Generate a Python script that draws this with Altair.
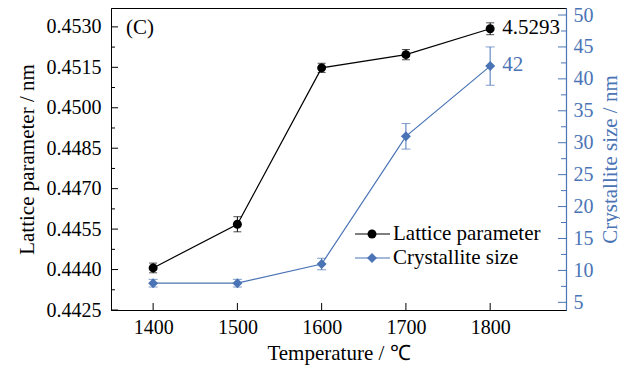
import altair as alt
import pandas as pd

# Sintering temperature (°C)
temps = [1400, 1500, 1600, 1700, 1800]

# Lattice parameter (nm) with error half-widths
lattice = [0.44406, 0.44568, 0.45148, 0.45197, 0.45293]
lattice_err = [0.00018, 0.00028, 0.00017, 0.00019, 0.00022]

# Crystallite size (nm) with error half-widths
cryst = [8, 8, 11, 31, 42]
cryst_err = [0.6, 0.6, 0.9, 2.0, 3.0]

# Axis tick values
x_ticks = [1400, 1500, 1600, 1700, 1800]
left_major = [0.4425, 0.4440, 0.4455, 0.4470, 0.4485, 0.4500, 0.4515, 0.4530]
left_minor = [0.44325, 0.44475, 0.44625, 0.44775, 0.44925, 0.45075, 0.45225]
right_major = [5, 10, 15, 20, 25, 30, 35, 40, 45, 50]
right_minor = [7.5, 12.5, 17.5, 22.5, 27.5, 32.5, 37.5, 42.5, 47.5]

W, H = 455, 302
BLUE = "#4a74b5"
FONT = "Liberation Serif"

df = pd.DataFrame({
    "temp": temps,
    "lat": lattice,
    "lat_lo": [v - e for v, e in zip(lattice, lattice_err)],
    "lat_hi": [v + e for v, e in zip(lattice, lattice_err)],
    "cs": cryst,
    "cs_lo": [v - e for v, e in zip(cryst, cryst_err)],
    "cs_hi": [v + e for v, e in zip(cryst, cryst_err)],
})

x_scale = alt.Scale(domain=[1350, 1890], nice=False, zero=False)
x_axis = alt.Axis(
    values=x_ticks, format="d", ticks=False, grid=False,
    title="Temperature / ℃", titleFont=FONT, titleFontSize=21,
    titleFontWeight="normal", titleColor="black", titlePadding=5,
    labelFont=FONT, labelFontSize=20, labelColor="black", labelPadding=7,
    domainColor="black", domainWidth=1,
)
X = alt.X("temp:Q", scale=x_scale, axis=x_axis)

lat_scale = alt.Scale(domain=[0.4425, 0.4537], nice=False, zero=False)
cs_scale = alt.Scale(domain=[3.8, 51.1], nice=False, zero=False)

lat_axis = alt.Axis(
    orient="left", values=left_major, format=".4f", ticks=False, grid=False,
    labelOverlap=False, title="Lattice parameter / nm", titleFont=FONT,
    titleFontSize=21, titleFontWeight="normal", titleColor="black",
    titlePadding=9, labelFont=FONT, labelFontSize=20, labelColor="black",
    labelPadding=10, domainColor="black", domainWidth=1,
)
cs_axis = alt.Axis(
    orient="right", values=right_major, format="d", ticks=False, grid=False,
    labelOverlap=False, labelBound=False, title="Crystallite size / nm",
    titleFont=FONT, titleFontSize=21, titleFontWeight="normal",
    titleColor=BLUE, titleAngle=270, titleBaseline="top", titlePadding=6,
    labelFont=FONT, labelFontSize=20, labelColor=BLUE, labelPadding=7,
    domainColor=BLUE, domainWidth=1.2,
)

base = alt.Chart(df)

# ---- Lattice parameter series (left axis) ----
def lat_y(field):
    return alt.Y(field, scale=lat_scale, axis=lat_axis)

lat_line = base.mark_line(color="black", strokeWidth=1.2).encode(x=X, y=lat_y("lat:Q"))
lat_bar = base.mark_rule(color="black", strokeWidth=1).encode(
    x=X, y=lat_y("lat_lo:Q"), y2="lat_hi:Q")
lat_cap_lo = base.mark_tick(orient="horizontal", size=8, thickness=1, color="black").encode(
    x=X, y=lat_y("lat_lo:Q"))
lat_cap_hi = base.mark_tick(orient="horizontal", size=8, thickness=1, color="black").encode(
    x=X, y=lat_y("lat_hi:Q"))
lat_pts = base.mark_point(shape="circle", filled=True, size=80, color="black", opacity=1).encode(
    x=X, y=lat_y("lat:Q"))
lat_label = base.transform_filter(alt.datum.temp == 1800).transform_calculate(
    label="format(datum.lat * 10, '.4f')"
).mark_text(align="left", baseline="middle", dx=12, dy=-1, font=FONT, fontSize=21,
            color="black").encode(x=X, y=lat_y("lat:Q"), text="label:N")
lat_group = alt.layer(lat_line, lat_bar, lat_cap_lo, lat_cap_hi, lat_pts, lat_label)

# ---- Crystallite size series (right axis) ----
def cs_y(field):
    return alt.Y(field, scale=cs_scale, axis=cs_axis)

cs_line = base.mark_line(color=BLUE, strokeWidth=1.2).encode(x=X, y=cs_y("cs:Q"))
cs_bar = base.mark_rule(color=BLUE, strokeWidth=1).encode(
    x=X, y=cs_y("cs_lo:Q"), y2="cs_hi:Q")
cs_cap_lo = base.mark_tick(orient="horizontal", size=9, thickness=1, color=BLUE).encode(
    x=X, y=cs_y("cs_lo:Q"))
cs_cap_hi = base.mark_tick(orient="horizontal", size=9, thickness=1, color=BLUE).encode(
    x=X, y=cs_y("cs_hi:Q"))
cs_pts = base.mark_point(shape="diamond", filled=True, size=100, color=BLUE, opacity=1).encode(
    x=X, y=cs_y("cs:Q"))
cs_label = base.transform_filter(alt.datum.temp == 1800).transform_calculate(
    label="format(datum.cs, 'd')"
).mark_text(align="left", baseline="middle", dx=12, dy=-1, font=FONT, fontSize=21,
            color=BLUE).encode(x=X, y=cs_y("cs:Q"), text="label:N")
cs_group = alt.layer(cs_line, cs_bar, cs_cap_lo, cs_cap_hi, cs_pts, cs_label)

# ---- Inward-pointing tick marks ----
xt = alt.Chart(pd.DataFrame({"v": x_ticks})).mark_rule(color="black", strokeWidth=1).encode(
    x=alt.X("v:Q", scale=x_scale, axis=x_axis), y=alt.value(H), y2=alt.value(H - 7))

lt_major = alt.Chart(pd.DataFrame({"v": left_major})).mark_rule(color="black", strokeWidth=1).encode(
    y=alt.Y("v:Q", scale=lat_scale, axis=None), x=alt.value(0), x2=alt.value(7))
lt_minor = alt.Chart(pd.DataFrame({"v": left_minor})).mark_rule(color="black", strokeWidth=1).encode(
    y=alt.Y("v:Q", scale=lat_scale, axis=None), x=alt.value(0), x2=alt.value(4))
rt_major = alt.Chart(pd.DataFrame({"v": right_major})).mark_rule(color=BLUE, strokeWidth=1).encode(
    y=alt.Y("v:Q", scale=cs_scale, axis=None), x=alt.value(W), x2=alt.value(W - 8))
rt_minor = alt.Chart(pd.DataFrame({"v": right_minor})).mark_rule(color=BLUE, strokeWidth=1).encode(
    y=alt.Y("v:Q", scale=cs_scale, axis=None), x=alt.value(W), x2=alt.value(W - 5))

# ---- Panel tag and legend ----
one = alt.Chart(pd.DataFrame({"k": [0]}))
tag = one.mark_text(align="left", baseline="middle", font=FONT, fontSize=21, color="black").encode(
    x=alt.value(15), y=alt.value(20), text=alt.value("(C)"))

def legend_row(y, color, shape, size, label):
    seg = one.mark_rule(color=color, strokeWidth=1.2).encode(
        x=alt.value(244), x2=alt.value(279), y=alt.value(y))
    sym = one.mark_point(shape=shape, filled=True, size=size, color=color, opacity=1).encode(
        x=alt.value(261), y=alt.value(y))
    txt = one.mark_text(align="left", baseline="middle", font=FONT, fontSize=21,
                        color="black").encode(x=alt.value(282), y=alt.value(y), text=alt.value(label))
    return [seg, sym, txt]

legend_layers = (legend_row(226, "black", "circle", 80, "Lattice parameter")
                 + legend_row(250, BLUE, "diamond", 100, "Crystallite size"))

chart = alt.layer(
    lat_group, cs_group, xt, lt_major, lt_minor, rt_major, rt_minor, tag, *legend_layers
).resolve_scale(y="independent").properties(
    width=W, height=H,
    padding={"left": 111, "top": 8, "right": 54, "bottom": 57},
    autosize=alt.AutoSizeParams(type="none"),
    background="white",
).configure_view(stroke="black", strokeWidth=1)

chart.save("out.html", embed_options={"renderer": "svg", "actions": False})
